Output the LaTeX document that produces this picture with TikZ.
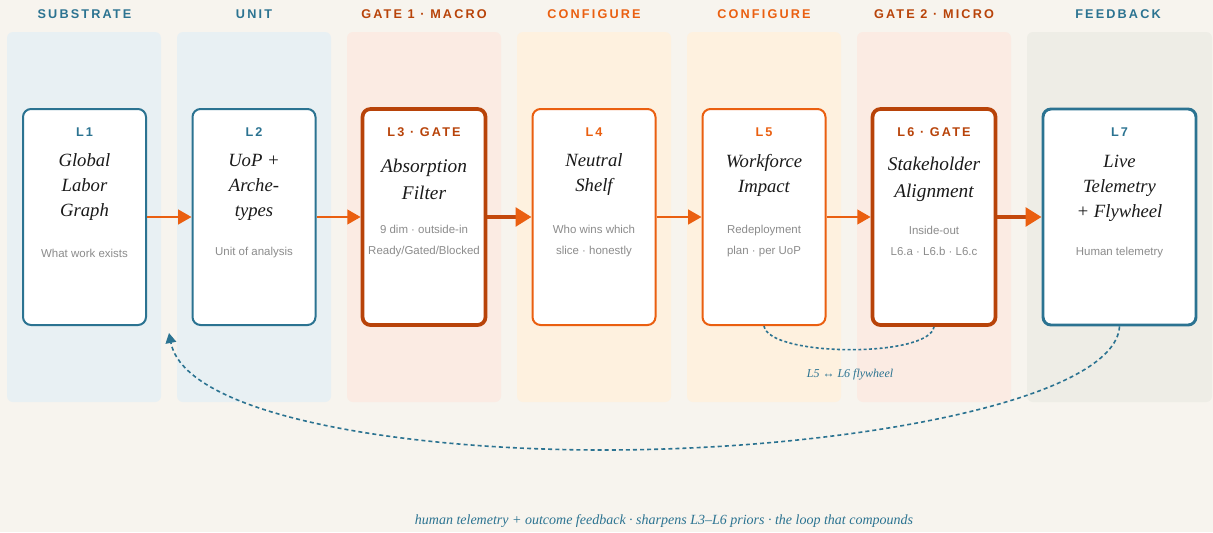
\documentclass[tikz,border=0pt]{standalone}
\usepackage{fontspec}
\usetikzlibrary{arrows.meta}
\newfontfamily\sansf{Liberation Sans}
\newfontfamily\serf{Liberation Serif}
\newfontfamily\hdrf{Liberation Sans}[LetterSpace=17]
\definecolor{bgc}{HTML}{F7F4EE}
\definecolor{bandblue}{HTML}{E8F0F3}
\definecolor{bandpink}{HTML}{FBEBE3}
\definecolor{bandorange}{HTML}{FEF1DF}
\definecolor{bandgrey}{HTML}{EEEDE6}
\definecolor{teal}{HTML}{2B7391}
\definecolor{darkor}{HTML}{B84309}
\definecolor{orng}{HTML}{EA5F10}
\definecolor{arrdark}{HTML}{C4480C}
\definecolor{ink}{HTML}{1A1A1A}
\definecolor{greyt}{HTML}{8C8C8C}
\tikzset{
  hdr/.style={font=\hdrf\bfseries\fontsize{9.5}{11}\selectfont},
  ttl/.style={font=\serf\itshape\fontsize{14}{18.75}\selectfont, align=center, text=ink, inner sep=0pt},
  gttl/.style={font=\serf\itshape\fontsize{14.5}{20.25}\selectfont, align=center, text=ink, inner sep=0pt},
  sub/.style={font=\sansf\fontsize{8.6}{15.75}\selectfont, align=center, text=greyt, inner sep=0pt},
  box/.style={draw, fill=white, rounded corners=6pt, minimum width=92.25pt, minimum height=162pt, inner sep=0pt},
  tealbox/.style={box, draw=teal, line width=1.5pt},
  orbox/.style={box, draw=orng, line width=1.5pt},
  gatebox/.style={box, draw=darkor, line width=2.8pt},
  band/.style={rounded corners=4.5pt},
  arr/.style={draw=orng, line width=1.6pt, -{Triangle[length=10pt,width=11pt]}},
  arrthick/.style={draw=arrdark, line width=2.8pt, -{Triangle[length=12pt,width=14pt,color=orng]}},
  fly/.style={draw=teal, line width=1.2pt, dash pattern=on 2.2pt off 1.8pt},
  fb/.style={draw=teal, line width=1.2pt, dash pattern=on 3pt off 2.3pt, -{Triangle[length=7.5pt,width=8pt]}},
}
\begin{document}
\begin{tikzpicture}[x=0.75pt,y=-0.75pt]
\useasboundingbox (0,0) rectangle (1213,532);
\fill[bgc] (0,0) rectangle (1213,532);
% bands
\fill[band, bandblue] (7,32) rectangle (161,402);
\fill[band, bandblue] (177,32) rectangle (331,402);
\fill[band, bandpink] (347,32) rectangle (501,402);
\fill[band, bandorange] (517,32) rectangle (671,402);
\fill[band, bandorange] (687,32) rectangle (841,402);
\fill[band, bandpink] (857,32) rectangle (1011,402);
\fill[band, bandgrey] (1027,32) rectangle (1212,402);
% headers
\node[hdr, text=teal] (h1) at (84.5,14) {SUBSTRATE};
\node[hdr, text=teal] (h2) at (254,14) {UNIT};
\node[hdr, text=darkor] (h3) at (424,14) {GATE 1 · MACRO};
\node[hdr, text=orng] (h4) at (594,14) {CONFIGURE};
\node[hdr, text=orng] (h5) at (764,14) {CONFIGURE};
\node[hdr, text=darkor] (h6) at (934,14) {GATE 2 · MICRO};
\node[hdr, text=teal] (h7) at (1118,14) {FEEDBACK};
% boxes
\node[tealbox] (L1) at (84.5,217) {};
\node[tealbox] (L2) at (254,217) {};
\node[gatebox] (L3) at (424,217) {};
\node[orbox] (L4) at (594,217) {};
\node[orbox] (L5) at (764,217) {};
\node[gatebox] (L6) at (934,217) {};
\node[box, draw=teal, line width=2.2pt, minimum width=114.75pt] (L7) at (1119.5,217) {};
% labels
\node[hdr, text=teal] (L1a) at (84.5,132) {L1};
\node[hdr, text=teal] (L2a) at (254,132) {L2};
\node[hdr, text=darkor] (L3a) at (424,132) {L3 · GATE};
\node[hdr, text=orng] (L4a) at (594,132) {L4};
\node[hdr, text=orng] (L5a) at (764,132) {L5};
\node[hdr, text=darkor] (L6a) at (934,132) {L6 · GATE};
\node[hdr, text=teal] (L7a) at (1119.5,132) {L7};
% titles
\node[ttl] (L1b) at (84.5,187) {Global\\Labor\\Graph};
\node[ttl] (L2b) at (254,187) {UoP +\\Arche-\\types};
\node[gttl] (L3b) at (424,179) {Absorption\\Filter};
\node[ttl] (L4b) at (594,175) {Neutral\\Shelf};
\node[ttl] (L5b) at (764,175) {Workforce\\Impact};
\node[gttl] (L6b) at (934,179) {Stakeholder\\Alignment};
\node[ttl] (L7b) at (1119.5,188) {Live\\Telemetry\\+ Flywheel};
% subs
\node[sub] (L1c) at (84.5,253) {What work exists};
\node[sub] (L2c) at (254,253) {Unit of analysis};
\node[sub] (L3c) at (424,241) {9 dim · outside-in\\Ready/Gated/Blocked};
\node[sub] (L4c) at (594,241) {Who wins which\\slice · honestly};
\node[sub] (L5c) at (764,241) {Redeployment\\plan · per UoP};
\node[sub] (L6c) at (934,241) {Inside-out\\L6.a · L6.b · L6.c};
\node[sub] (L7c) at (1119.5,253) {Human telemetry};
% arrows
\draw[arr] (L1.east) -- (L2.west);
\draw[arr] (L2.east) -- (L3.west);
\draw[arrthick] (L3.east) -- (L4.west);
\draw[arr] (L4.east) -- (L5.west);
\draw[arr] (L5.east) -- (L6.west);
\draw[arrthick] (L6.east) -- (L7.west);
% flywheel
\draw[fly] (L5.south) .. controls +(5,31) and +(-5,31) .. (L6.south);
\node[font=\serf\itshape\fontsize{9}{11}\selectfont, text=teal] (flyl) at (850,375) {L5 ↔ L6 flywheel};
% feedback loop
\coordinate (fbmid) at (603,450);
\coordinate (fbend) at (169,333);
\draw[fb] (L7.south) .. controls (1115,400) and (850,450) .. (fbmid) .. controls (400,450) and (185,415) .. (fbend);
\node[font=\serf\itshape\fontsize{10.5}{12}\selectfont, text=teal] (foot) at (664,521) {human telemetry + outcome feedback · sharpens L3–L6 priors · the loop that compounds};
\end{tikzpicture}
\end{document}
